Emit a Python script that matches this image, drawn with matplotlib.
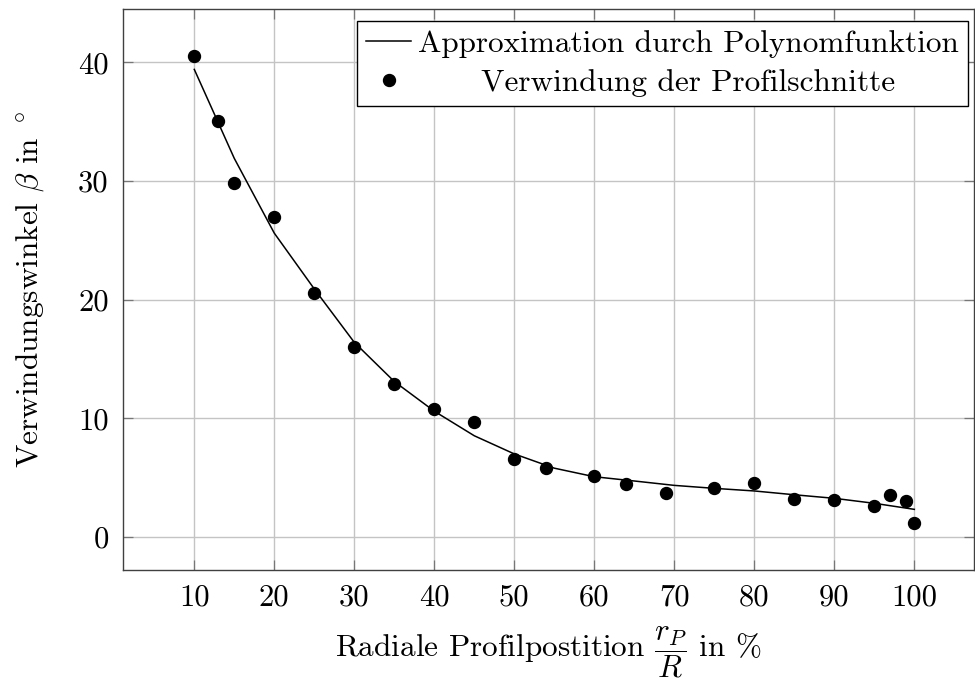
import matplotlib
matplotlib.use("Agg")
import matplotlib.pyplot as plt
import numpy as np

# Data
x_points = [10, 13, 15, 20, 25, 30, 35, 40, 45, 50, 54, 60, 64, 69, 75, 80, 85, 90, 95, 97, 99, 100]
y_points = [40.55, 35.07, 29.85, 26.96, 20.53, 15.98, 12.89, 10.76, 9.71, 6.6, 5.81, 5.12,
            4.44, 3.73, 4.10, 4.55, 3.18, 3.12, 2.61, 3.54, 3.06, 1.15]

x_fit = [10, 15, 20, 25, 30, 35, 40, 45, 50, 55, 60, 65, 70, 75, 80, 85, 90, 95, 100]
y_fit = [39.4, 31.9, 25.6, 20.9, 16.4, 13.1, 10.6, 8.53, 7.0, 5.8, 5.08, 4.72, 4.35, 4.10,
         3.88, 3.56, 3.26, 2.84, 2.33]

x_ticks = [10, 20, 30, 40, 50, 60, 70, 80, 90, 100]
y_ticks = [0, 10, 20, 30, 40]

label_fit = "Approximation durch Polynomfunktion"
label_pts = "Verwindung der Profilschnitte"

plt.rcParams["font.family"] = ["cmr10", "DejaVu Serif"]
plt.rcParams["mathtext.fontset"] = "cm"
plt.rcParams["axes.formatter.use_mathtext"] = True
plt.rcParams["axes.unicode_minus"] = False

FS = 22.5
FS_TICK = 22
fig = plt.figure(figsize=(9.75, 6.8), dpi=100)
ax = fig.add_axes([122.7 / 975, 1 - 570 / 680, (974 - 122.7) / 975, (570 - 9) / 680])

ax.plot(x_fit, y_fit, color="black", lw=1.1, label=label_fit, zorder=3)
ax.plot(x_points, y_points, ls="none", marker="o", ms=8.6, color="black",
        label=label_pts, zorder=4)

ax.set_xlim(1.05, 107.46)
ax.set_ylim(-2.78, 44.49)
ax.set_xticks(x_ticks)
ax.set_yticks(y_ticks)
ax.set_xticklabels([str(v) for v in x_ticks])
ax.set_yticklabels([str(v) for v in y_ticks])
ax.grid(True, color="#c4c4c4", lw=1.0, zorder=0)
ax.set_axisbelow(True)
ax.tick_params(direction="in", length=7, width=0.9, color="#777777",
               labelsize=FS_TICK, top=True, right=True, pad=10)
for s in ax.spines.values():
    s.set_color("#404040")
    s.set_linewidth(1.0)

ax.set_xlabel(r"Radiale Profilpostition $\dfrac{r_P}{R}$ in %", fontsize=FS, labelpad=10)
ax.set_ylabel(r"Verwindungswinkel $\beta$ in $^\circ$", fontsize=FS, labelpad=23)

leg = ax.legend(loc="upper right", bbox_to_anchor=(0.9933, 0.9786), borderaxespad=0,
                fontsize=FS, frameon=True, fancybox=False, framealpha=1,
                edgecolor="black", handlelength=1.43, handletextpad=0.22,
                borderpad=0.3, labelspacing=0.33)
leg.get_frame().set_linewidth(1.0)

# center the second legend entry text within the text column (as in the reference)
fig.canvas.draw()
r = fig.canvas.get_renderer()
t0, t1 = leg.get_texts()
w0 = t0.get_window_extent(r).width
w1 = t1.get_window_extent(r).width
t1.set_x((w0 - w1) / 2)

fig.savefig("out.png", dpi=100)
